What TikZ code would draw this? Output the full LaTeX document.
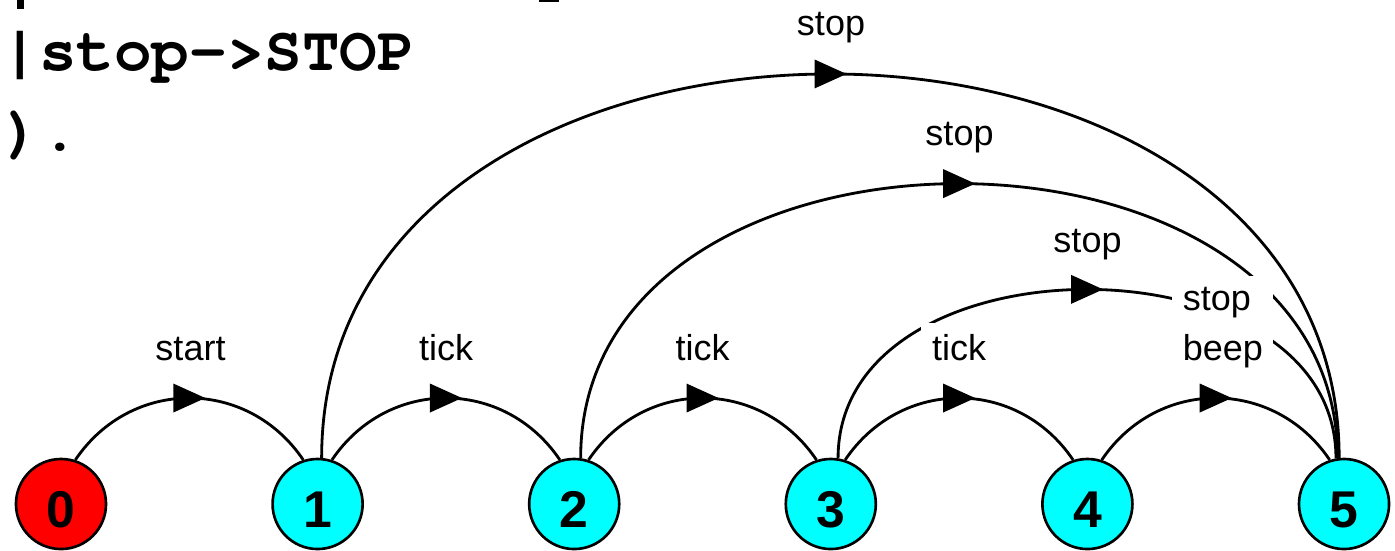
\documentclass[tikz,border=0pt]{standalone}
\usepackage{fontspec}
\setmainfont{Liberation Sans}
\newfontfamily\codefont{TeX Gyre Cursor}
\usetikzlibrary{decorations.markings}
\definecolor{stateaqua}{RGB}{0,255,255}
\definecolor{statered}{RGB}{255,0,0}
\begin{document}
\begin{tikzpicture}[x=0.01cm,y=0.01cm,
  state/.style={circle, draw=black, line width=0.75pt, minimum size=0.9cm, inner sep=0pt,
    font=\fontsize{14.7}{16}\selectfont\bfseries, text height=13.4pt},
  edge/.style={line width=0.8pt, postaction={decorate},
    decoration={markings, mark=at position 0.5 with {\fill (-0.16cm,0.145cm) -- (0.16cm,0) -- (-0.16cm,-0.145cm) -- cycle;}}},
  lbl/.style={fill=white, inner sep=3pt, font=\fontsize{10.24}{14.2}\selectfont, anchor=base},
  code/.style={font=\codefont\bfseries\fontsize{17.8}{20}\selectfont, anchor=base west, inner sep=0pt}]
\useasboundingbox (0,0) rectangle (1395,550);

% cut-off remnants of the previous code line
\fill (17,541) rectangle (24,550);
\fill (539,548) rectangle (559,550);

\node[code] (c1) at (1,480) {|stop->STOP};
\node[code] (c2) at (3,400) {).};

\node[state, fill=statered]  (n0) at (61,46) {0};
\node[state, fill=stateaqua] (n1) at (317.6,46) {1};
\node[state, fill=stateaqua] (n2) at (574.2,46) {2};
\node[state, fill=stateaqua] (n3) at (830.8,46) {3};
\node[state, fill=stateaqua] (n4) at (1087.4,46) {4};
\node[state, fill=stateaqua] (n5) at (1344,46) {5};

\draw[edge] (n0.72) to[out=56,in=124,looseness=1.12] (n1.108);
\draw[edge] (n1.72) to[out=56,in=124,looseness=1.12] (n2.108);
\draw[edge] (n2.72) to[out=56,in=124,looseness=1.12] (n3.108);
\draw[edge] (n3.72) to[out=56,in=124,looseness=1.12] (n4.108);
\draw[edge] (n4.72) to[out=56,in=124,looseness=1.12] (n5.108);
\draw[edge] (n1.85) to[out=90,in=90,looseness=1.29] (n5.96);
\draw[edge] (n2.82) to[out=90,in=90,looseness=1.24] (n5.98);
\draw[edge] (n3.81) to[out=90,in=90,looseness=1.16] (n5.100);

\node[lbl] (l01) at (190.5,190) {start};
\node[lbl] (l12) at (446,190) {tick};
\node[lbl] (l23) at (702.5,190) {tick};
\node[lbl] (l34) at (959,190) {tick};
\node[lbl, align=left, anchor=base west] (l45) at (1171.5,190) {stop\\beep};
\node[lbl] (l15) at (831,515) {stop};
\node[lbl] (l25) at (959.5,405) {stop};
\node[lbl] (l35) at (1087.5,298) {stop};
\end{tikzpicture}
\end{document}
